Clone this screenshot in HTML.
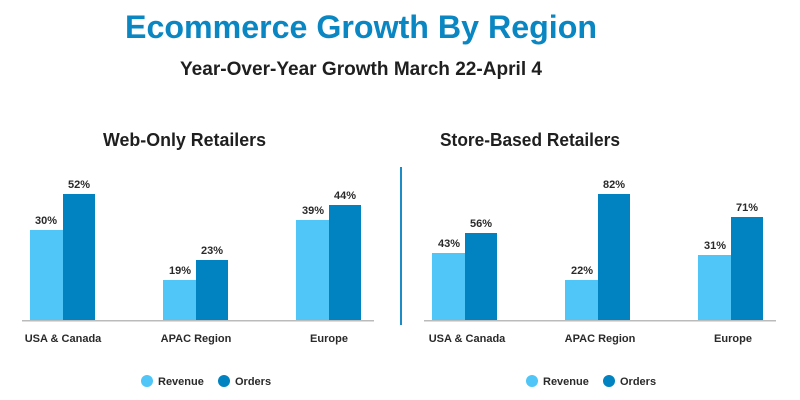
<!DOCTYPE html>
<html><head><meta charset="utf-8"><style>
html,body{margin:0;padding:0;background:#fff;}
svg{display:block;font-family:"Liberation Sans",sans-serif;font-weight:bold;}
</style></head><body>
<svg width="800" height="400" viewBox="0 0 800 400">
<text x="125" y="38" font-size="32" fill="#0a86c2" textLength="472" lengthAdjust="spacingAndGlyphs">Ecommerce Growth By Region</text>
<text x="361" y="75" font-size="19" fill="#1f1f1f" text-anchor="middle" textLength="362" lengthAdjust="spacingAndGlyphs">Year-Over-Year Growth March 22-April 4</text>
<text x="103" y="146" font-size="18" fill="#1f1f1f" textLength="163" lengthAdjust="spacingAndGlyphs">Web-Only Retailers</text>
<text x="440" y="146" font-size="18" fill="#1f1f1f" textLength="180" lengthAdjust="spacingAndGlyphs">Store-Based Retailers</text>
<rect x="400" y="167" width="2" height="158" fill="#1a8cc6"/>
<g fill="#4fc6f7">
<rect x="30" y="230" width="33" height="90"/><rect x="163" y="280" width="33" height="40"/><rect x="296" y="220" width="33" height="100"/>
<rect x="432" y="253" width="33" height="67"/><rect x="565" y="280" width="33" height="40"/><rect x="698" y="255" width="33" height="65"/>
</g>
<g fill="#0083c0">
<rect x="63" y="194" width="32" height="126"/><rect x="196" y="260" width="32" height="60"/><rect x="329" y="205" width="32" height="115"/>
<rect x="465" y="233" width="32" height="87"/><rect x="598" y="194" width="32" height="126"/><rect x="731" y="217" width="32" height="103"/>
</g>
<rect x="22" y="320" width="352" height="1.5" fill="#bbb"/>
<rect x="424" y="320" width="352" height="1.5" fill="#bbb"/>
<g font-size="11" fill="#2a2a2a" text-anchor="middle">
<text x="46" y="224">30%</text><text x="79" y="188">52%</text>
<text x="180" y="274">19%</text><text x="212" y="254">23%</text>
<text x="313" y="214">39%</text><text x="345" y="199">44%</text>
<text x="449" y="247">43%</text><text x="481" y="227">56%</text>
<text x="582" y="274">22%</text><text x="614" y="188">82%</text>
<text x="715" y="249">31%</text><text x="747" y="211">71%</text>
<text x="63" y="342">USA &amp; Canada</text><text x="196" y="342">APAC Region</text><text x="329" y="342">Europe</text>
<text x="467" y="342">USA &amp; Canada</text><text x="600" y="342">APAC Region</text><text x="733" y="342">Europe</text>
</g>
<g font-size="11" fill="#2a2a2a">
<circle cx="147" cy="381" r="6" fill="#4fc6f7"/><text x="158" y="385">Revenue</text>
<circle cx="224" cy="381" r="6" fill="#0083c0"/><text x="235" y="385">Orders</text>
<circle cx="532" cy="381" r="6" fill="#4fc6f7"/><text x="543" y="385">Revenue</text>
<circle cx="609" cy="381" r="6" fill="#0083c0"/><text x="620" y="385">Orders</text>
</g>
</svg>
</body></html>
